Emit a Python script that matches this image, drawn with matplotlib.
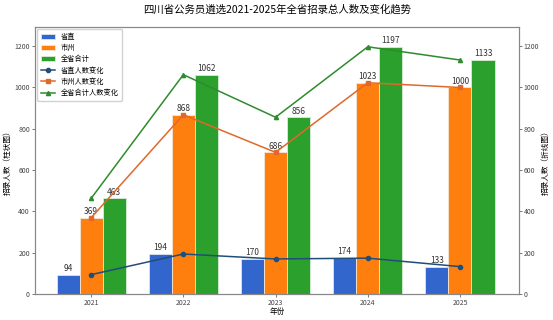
import matplotlib
matplotlib.use("Agg")
import matplotlib.pyplot as plt
import numpy as np

plt.rcParams['font.family'] = ['Noto Sans CJK SC', 'DejaVu Sans']
plt.rcParams['axes.unicode_minus'] = False

years = ['2021', '2022', '2023', '2024', '2025']
shengzhi = [94, 194, 170, 174, 133]
shizhou = [369, 868, 686, 1023, 1000]
total = [463, 1062, 856, 1197, 1133]

x = np.arange(len(years))
w = 0.25

fig, ax = plt.subplots(figsize=(5.53, 3.2), dpi=100)
fig.subplots_adjust(left=0.063, right=0.9385, top=0.9156, bottom=0.081)

b1 = ax.bar(x - w, shengzhi, w, color='#3366cc', edgecolor='#dde6f0', linewidth=0.6, label='省直')
b2 = ax.bar(x, shizhou, w, color='#ff7f0e', edgecolor='#f5e6d5', linewidth=0.6, label='市州')
b3 = ax.bar(x + w, total, w, color='#2ca02c', edgecolor='#d8ecd8', linewidth=0.6, label='全省合计')
for bars in (b1, b2, b3):
    for r in bars:
        ax.text(r.get_x() + r.get_width() / 2, r.get_height() + 8, f'{int(r.get_height())}',
                ha='center', va='bottom', fontsize=6, color='#333333')

ax2 = ax.twinx()
l1, = ax2.plot(x, shengzhi, color='#1f4e79', marker='o', markersize=3, linewidth=1.1, label='省直人数变化')
l2, = ax2.plot(x, shizhou, color='#e0692a', marker='s', markersize=3, linewidth=1.1, label='市州人数变化')
l3, = ax2.plot(x, total, color='#2e8b2e', marker='^', markersize=3, linewidth=1.1, label='全省合计人数变化')

ymax = max(total) * 1.08
ax.set_ylim(0, ymax)
ax2.set_ylim(0, ymax)
ax.set_xlim(-0.61, 4.64)
ax.set_xticks(x)
ax.set_xticklabels(years)

for a in (ax, ax2):
    a.tick_params(labelsize=5, colors='#444444', length=2, width=0.5, pad=1.5)
    for s in a.spines.values():
        s.set_color('#888888')
        s.set_linewidth(0.8)

ax.set_xlabel('年份', fontsize=5.5, labelpad=1)
ax.set_ylabel('招录人数（柱状图）', fontsize=5.5, labelpad=2)
ax2.set_ylabel('招录人数（折线图）', fontsize=5.5, labelpad=2)
ax.set_title('四川省公务员遴选2021-2025年全省招录总人数及变化趋势', fontsize=7.5, pad=10)

ax.legend([b1, b2, b3, l1, l2, l3], [h.get_label() for h in (b1, b2, b3, l1, l2, l3)],
          loc='upper left', fontsize=5.2, frameon=True, framealpha=0.9, borderpad=0.5,
          handlelength=2.0, labelspacing=0.45, borderaxespad=0.3)

fig.savefig('out.png', dpi=100)
